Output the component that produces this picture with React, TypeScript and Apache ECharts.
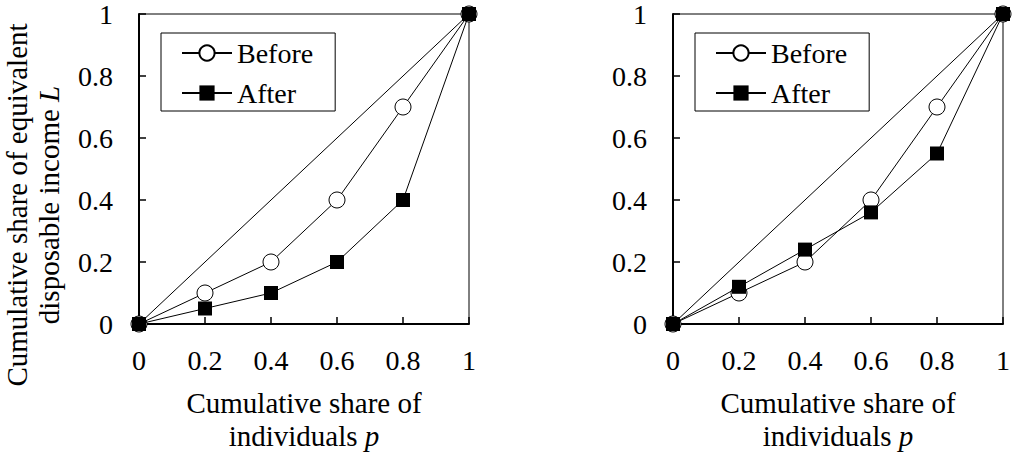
import React, { useEffect, useRef } from "react";
import * as echarts from "echarts";

const P = [0, 0.2, 0.4, 0.6, 0.8, 1];
const leftBefore = [0, 0.1, 0.2, 0.4, 0.7, 1];
const leftAfter = [0, 0.05, 0.1, 0.2, 0.4, 1];
const rightBefore = [0, 0.1, 0.2, 0.4, 0.7, 1];
const rightAfter = [0, 0.12, 0.24, 0.36, 0.55, 1];
const equalityX = [0, 1];
const equalityY = [0, 1];
const legendNames = ["Before", "After"];

const FONT = "Times New Roman";
const FS = 28;
const TFS = 29;

const pairs = (xs: number[], ys: number[]) => xs.map((x, i) => [x, ys[i]]);

export default function App() {
  const ref = useRef<HTMLDivElement>(null);
  useEffect(() => {
    if (!ref.current) return;
    const chart = echarts.init(ref.current, undefined, { renderer: "svg" });

    const xAxisFor = (gridIndex: number) => ({
      type: "value",
      gridIndex,
      min: 0,
      max: 1,
      interval: 0.2,
      name: "Cumulative share of\nindividuals {i|p}",
      nameLocation: "middle",
      nameGap: 62,
      nameTextStyle: {
        fontFamily: FONT,
        fontSize: TFS,
        color: "#000",
        lineHeight: 33,
        rich: { i: { fontFamily: FONT, fontSize: TFS, fontStyle: "italic", color: "#000", lineHeight: 33 } },
      },
      axisLine: { show: true, lineStyle: { color: "#000", width: 2 } },
      axisTick: { show: true, inside: true, length: 7, lineStyle: { color: "#000", width: 1.5 } },
      axisLabel: { fontFamily: FONT, fontSize: FS, color: "#000", margin: 22 },
      splitLine: { show: false },
    });

    const yAxisFor = (gridIndex: number, withName: boolean) => ({
      type: "value",
      gridIndex,
      min: 0,
      max: 1,
      interval: 0.2,
      name: withName ? "Cumulative share of equivalent\ndisposable income {i|L}" : "",
      nameLocation: "middle",
      nameGap: 74,
      nameRotate: 90,
      nameTextStyle: {
        fontFamily: FONT,
        fontSize: TFS,
        color: "#000",
        lineHeight: 32,
        padding: [0, 72, 0, 0],
        rich: { i: { fontFamily: FONT, fontSize: TFS, fontStyle: "italic", color: "#000", lineHeight: 32 } },
      },
      axisLine: { show: true, lineStyle: { color: "#000", width: 2 } },
      axisTick: { show: true, inside: true, length: 7, lineStyle: { color: "#000", width: 1.5 } },
      axisLabel: { fontFamily: FONT, fontSize: FS, color: "#000", margin: 26 },
      splitLine: { show: false },
    });

    const seriesFor = (idx: number, before: number[], after: number[]) => [
      {
        type: "line",
        name: "Equality",
        xAxisIndex: idx,
        yAxisIndex: idx,
        data: pairs(equalityX, equalityY),
        showSymbol: false,
        symbol: "none",
        lineStyle: { color: "#000", width: 1 },
        clip: false,
        z: 2,
      },
      {
        type: "line",
        name: "Before",
        xAxisIndex: idx,
        yAxisIndex: idx,
        data: pairs(P, before),
        symbol: "circle",
        symbolSize: 16,
        lineStyle: { color: "#000", width: 1 },
        itemStyle: { color: "#fff", borderColor: "#000", borderWidth: 1 },
        clip: false,
        z: 3,
      },
      {
        type: "line",
        name: "After",
        xAxisIndex: idx,
        yAxisIndex: idx,
        data: pairs(P, after),
        symbol: "rect",
        symbolSize: 14,
        lineStyle: { color: "#000", width: 1 },
        itemStyle: { color: "#000", borderColor: "#000", borderWidth: 0 },
        clip: false,
        z: 4,
      },
    ];

    const legendFor = (left: number) => ({
      data: legendNames,
      left,
      top: 33,
      orient: "vertical",
      itemWidth: 50,
      itemHeight: 19,
      itemGap: 12,
      padding: [6, 22, 4, 20],
      borderColor: "#000",
      borderWidth: 1,
      backgroundColor: "#fff",
      selectedMode: false,
      textStyle: { fontFamily: FONT, fontSize: FS, color: "#000", lineHeight: 28 },
    });

    const gridBase = {
      top: 14,
      width: 330,
      height: 310,
      show: true,
      borderColor: "#000",
      borderWidth: 1,
      containLabel: false,
      outerBoundsMode: "none",
    };

    chart.setOption({
      animation: false,
      backgroundColor: "#fff",
      textStyle: { fontFamily: FONT },
      grid: [
        { ...gridBase, left: 139 },
        { ...gridBase, left: 673 },
      ],
      legend: [legendFor(161), legendFor(695)],
      xAxis: [xAxisFor(0), xAxisFor(1)],
      yAxis: [yAxisFor(0, true), yAxisFor(1, false)],
      series: [...seriesFor(0, leftBefore, leftAfter), ...seriesFor(1, rightBefore, rightAfter)],
    });

    return () => chart.dispose();
  }, []);

  return (
    <div
      ref={ref}
      style={{ position: "fixed", left: 0, top: 0, width: 1012, height: 458, background: "#fff" }}
    />
  );
}
